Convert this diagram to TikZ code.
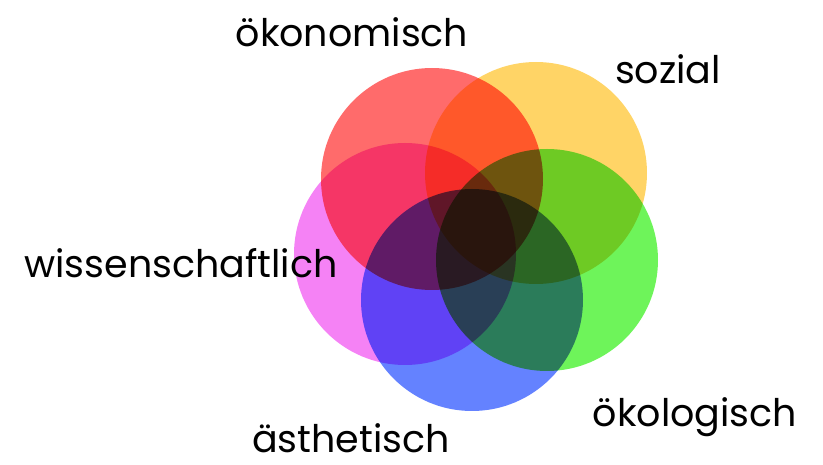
\documentclass[tikz,border=0pt]{standalone}
\usepackage{fontspec}
\setmainfont{Poppins}
\definecolor{cred}{HTML}{FF6B6B}
\definecolor{corange}{HTML}{FFD466}
\definecolor{cgreen}{HTML}{6EF45A}
\definecolor{cmagenta}{HTML}{F582F5}
\definecolor{cblue}{HTML}{6482FF}
\begin{document}
\begin{tikzpicture}[x=1pt,y=-1pt,
  ring/.style={circle, inner sep=0pt, outer sep=0pt, minimum size=222pt, draw=none},
  lab/.style={font=\fontsize{38}{46}\selectfont, text=black, inner sep=0pt, anchor=base}]
\useasboundingbox (0,0) rectangle (823,465);
\begin{scope}[blend group=multiply]
\node[ring, fill=cred] (oek) at (432,179) {};
\node[ring, fill=corange] (soz) at (536,173) {};
\node[ring, fill=cgreen] (eco) at (547,260) {};
\node[ring, fill=cmagenta] (wis) at (405,254) {};
\node[ring, fill=cblue] (aes) at (472,300) {};
\end{scope}
\node[lab] (loek) at (352,47) {ökonomisch};
\node[lab] (lsoz) at (668,84) {sozial};
\node[lab] (lwis) at (181,278) {wissenschaftlich};
\node[lab] (laes) at (351,453) {ästhetisch};
\node[lab] (leco) at (695,427) {ökologisch};
\end{tikzpicture}
\end{document}
